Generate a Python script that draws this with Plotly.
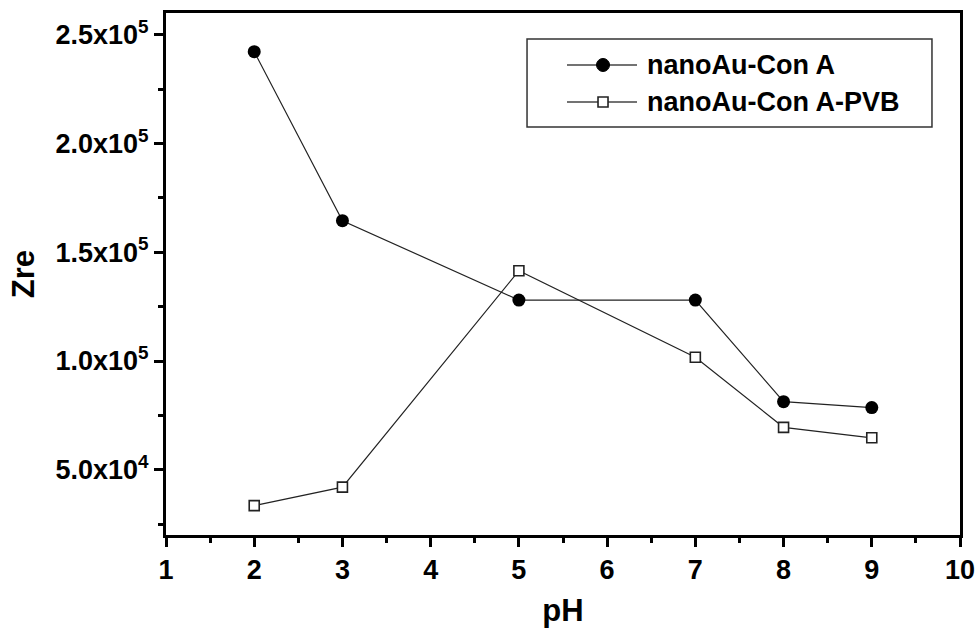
import plotly.graph_objects as go

# pH values and real impedance (Zre) for the two electrodes
ph = [2, 3, 5, 7, 8, 9]
zre_cona = [242200, 164500, 128000, 128000, 81300, 78600]
zre_cona_pvb = [33500, 42000, 141500, 101700, 69500, 64700]

series_names = ["nanoAu-Con A", "nanoAu-Con A-PVB"]

y_tickvals = [50000, 100000, 150000, 200000, 250000]
y_ticktext = ["5.0x10<sup>4</sup>", "1.0x10<sup>5</sup>", "1.5x10<sup>5</sup>",
              "2.0x10<sup>5</sup>", "2.5x10<sup>5</sup>"]
y_minorvals = [25000, 75000, 125000, 175000, 225000]

FONT = "Liberation Sans, Arial, Helvetica, sans-serif"

fig = go.Figure()
fig.add_trace(go.Scatter(
    x=ph, y=zre_cona, mode="lines+markers", name=series_names[0],
    line=dict(color="#222222", width=1.2),
    marker=dict(symbol="circle", size=13, color="black"),
))
fig.add_trace(go.Scatter(
    x=ph, y=zre_cona_pvb, mode="lines+markers", name=series_names[1],
    line=dict(color="#222222", width=1.2),
    marker=dict(symbol="square", size=10, color="white",
                line=dict(color="#222222", width=1.6)),
))

axis_common = dict(
    showline=True, linecolor="black", linewidth=3, mirror=True,
    ticks="outside", ticklen=9, tickwidth=2.5, tickcolor="black",
    showgrid=False, zeroline=False, automargin=False,
    ticklabeloverflow="allow",
    tickfont=dict(family=FONT, size=27, color="black", weight="bold"),
)

fig.update_layout(
    width=975, height=628,
    margin=dict(l=166, r=15, t=13, b=93),
    paper_bgcolor="white", plot_bgcolor="white",
    showlegend=False,
    xaxis=dict(
        range=[1, 10], tickmode="linear", tick0=1, dtick=1,
        minor=dict(ticks="outside", tick0=1, dtick=0.5, ticklen=5,
                   tickwidth=2.5, tickcolor="black"),
        title=dict(text="pH", standoff=18,
                   font=dict(family=FONT, size=31, color="black", weight="bold")),
        **axis_common,
    ),
    yaxis=dict(
        range=[20000, 260000], tickmode="array",
        tickvals=y_tickvals, ticktext=y_ticktext,
        minor=dict(ticks="outside", tickmode="array", tickvals=y_minorvals,
                   ticklen=5, tickwidth=2.5, tickcolor="black"),
        title=dict(text="Zre", standoff=12,
                   font=dict(family=FONT, size=31, color="black", weight="bold")),
        **axis_common,
    ),
)

# Legend box drawn by hand so the sample lines can be long
box = dict(x0=0.4547, x1=0.9647, y0=0.7816, y1=0.9502)
fig.add_shape(type="rect", xref="paper", yref="paper", **box,
              line=dict(color="#333333", width=1.5), fillcolor="white")

rows_y = [0.9004, 0.8295]
line_x0, line_x1, mark_x, text_x = 0.505, 0.5932, 0.5504, 0.6033
for i, (name, yy) in enumerate(zip(series_names, rows_y)):
    fig.add_shape(type="line", xref="paper", yref="paper",
                  x0=line_x0, x1=line_x1, y0=yy, y1=yy,
                  line=dict(color="#444444", width=1.5))
    if i == 0:
        fig.add_shape(type="circle", xref="paper", yref="paper",
                      xsizemode="pixel", ysizemode="pixel",
                      xanchor=mark_x, yanchor=yy, x0=-6.5, x1=6.5, y0=-6.5, y1=6.5,
                      fillcolor="black", line=dict(color="black", width=1))
    else:
        fig.add_shape(type="rect", xref="paper", yref="paper",
                      xsizemode="pixel", ysizemode="pixel",
                      xanchor=mark_x, yanchor=yy, x0=-5, x1=5, y0=-5, y1=5,
                      fillcolor="white", line=dict(color="#222222", width=1.6))
    fig.add_annotation(x=text_x, y=yy, xref="paper", yref="paper",
                       text=name, showarrow=False, xanchor="left", yanchor="middle",
                       font=dict(family=FONT, size=27, color="black", weight="bold"))

fig.write_html("out.html")
